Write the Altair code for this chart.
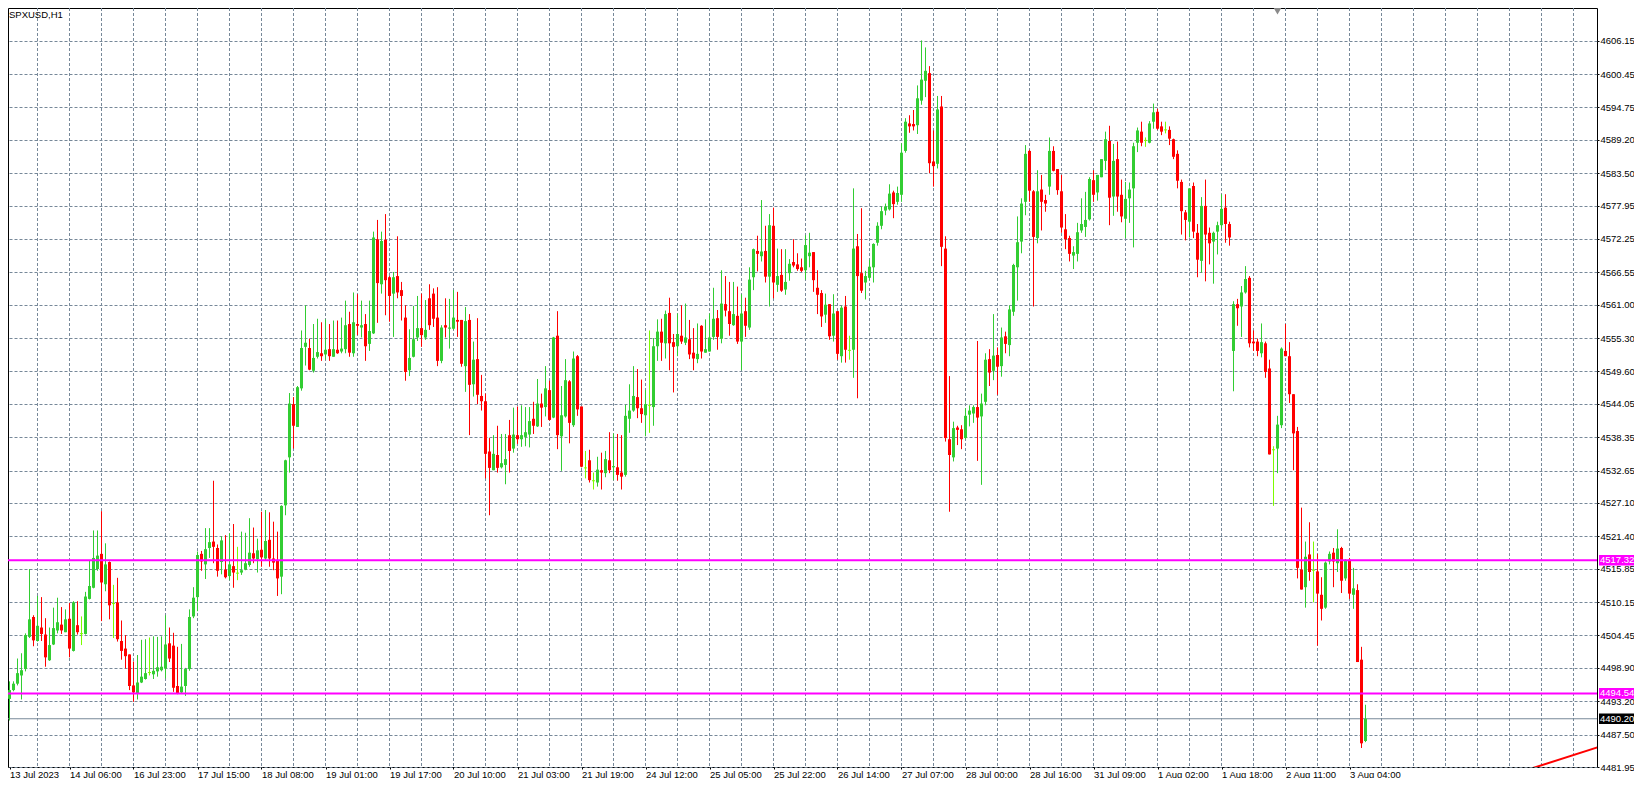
import altair as alt
import pandas as pd

# ---------------- data (SPXUSD, H1) ----------------
OPEN = [
    4489.5, 4493.6, 4495.1, 4496.2, 4497.6, 4498.7, 4504.2, 4507.6, 4503.5, 4505.8,
    4504.6, 4500.2, 4502.9, 4505.3, 4506.3, 4505.0, 4507.3, 4501.8, 4506.2, 4504.75,
    4504.7, 4510.7, 4512.6, 4515.8, 4518.4, 4513.2, 4517.0, 4509.9, 4510.1, 4503.5,
    4502.2, 4501.2, 4495.9, 4494.5, 4496.4, 4497.0, 4498.1, 4497.8, 4498.3, 4498.5,
    4498.8, 4503.1, 4502.7, 4495.8, 4494.7, 4495.8, 4498.7, 4507.7, 4511.0, 4518.4,
    4516.6, 4519.4, 4520.5, 4519.4, 4517.0, 4515.7, 4514.6, 4516.3, 4515.1, 4515.2,
    4515.7, 4516.5, 4518.5, 4517.5, 4519.1, 4517.6, 4520.8, 4517.6, 4517.3, 4514.5,
    4526.7, 4534.9, 4544.0, 4540.1, 4546.7, 4553.8, 4553.6, 4549.7, 4552.1, 4552.7,
    4552.5, 4553.4, 4552.1, 4553.3, 4553.0, 4553.4, 4557.7, 4552.7, 4557.7, 4557.1,
    4557.7, 4554.3, 4556.1, 4572.2, 4564.5, 4572.1, 4565.7, 4562.9, 4565.9, 4563.5,
    4558.8, 4549.8, 4552.1, 4555.4, 4557.0, 4555.4, 4562.1, 4562.9, 4558.8, 4551.4,
    4557.5, 4556.9, 4556.9, 4558.4, 4558.4, 4550.5, 4558.4, 4547.4, 4551.7, 4545.4,
    4544.5, 4535.9, 4532.7, 4535.3, 4533.2, 4533.6, 4538.7, 4536.4, 4538.7, 4538.0,
    4538.4, 4538.8, 4541.5, 4540.2, 4544.1, 4543.5, 4546.4, 4541.7, 4555.7, 4538.5,
    4541.9, 4547.9, 4540.4, 4552.2, 4543.6, 4533.1, 4534.4, 4530.9, 4530.6, 4532.7,
    4532.2, 4534.4, 4533.2, 4533.2, 4532.3, 4531.9, 4541.5, 4542.9, 4545.2, 4543.3,
    4542.1, 4543.8, 4543.5, 4553.9, 4556.4, 4554.4, 4559.6, 4554.6, 4553.9, 4555.7,
    4554.5, 4555.1, 4552.8, 4551.7, 4557.4, 4552.8, 4553.0, 4555.5, 4558.7, 4555.2,
    4561.1, 4559.9, 4557.5, 4559.1, 4554.7, 4559.9, 4557.1, 4565.7, 4570.2, 4569.3,
    4570.2, 4565.8, 4574.5, 4564.4, 4566.1, 4563.6, 4566.4, 4568.3, 4567.9, 4567.4,
    4566.9, 4569.3, 4570.0, 4563.9, 4563.0, 4559.3, 4561.1, 4555.7, 4559.9, 4552.2,
    4560.7, 4553.2, 4553.3, 4571.0, 4566.4, 4564.8, 4565.6, 4567.4, 4571.6, 4574.5,
    4577.1, 4577.3, 4580.2, 4578.6, 4579.8, 4587.3, 4592.0, 4591.9, 4591.7, 4595.9,
    4599.3, 4600.6, 4585.5, 4585.1, 4594.9, 4570.6, 4538.0, 4534.9, 4540.0, 4539.7,
    4538.2, 4542.2, 4542.4, 4543.5, 4541.9, 4544.4, 4551.7, 4549.7, 4552.4, 4550.5,
    4555.6, 4554.1, 4559.8, 4567.4, 4571.8, 4578.6, 4587.3, 4580.4, 4572.4, 4580.7,
    4578.9, 4581.2, 4587.3, 4584.2, 4580.4, 4573.9, 4572.4, 4569.4, 4569.7, 4573.7,
    4574.3, 4575.6, 4582.3, 4580.2, 4582.8, 4585.6, 4589.0, 4579.5, 4585.9, 4579.8,
    4575.7, 4579.2, 4580.9, 4588.7, 4590.6, 4589.1, 4588.7, 4592.3, 4594.0, 4591.5,
    4590.9, 4590.9, 4589.3, 4586.8, 4582.0, 4576.8, 4575.2, 4581.3, 4573.3, 4568.5,
    4577.9, 4573.3, 4571.8, 4573.5, 4574.6, 4577.6, 4574.8, 4553.1, 4561.1, 4560.7,
    4563.1, 4565.6, 4554.7, 4554.7, 4552.7, 4554.4, 4550.1, 4536.2, 4536.4, 4540.4,
    4553.1, 4552.2, 4545.7, 4539.4, 4515.7, 4512.7, 4518.3, 4515.6, 4515.4, 4511.4,
    4509.2, 4517.1, 4518.6, 4516.8, 4519.4, 4514.2, 4517.4, 4511.4, 4512.2, 4500.3,
    4486.4,
]
HIGH = [
    4495.0, 4496.6, 4496.6, 4500.5, 4501.4, 4504.8, 4515.8, 4507.9, 4511.2, 4511.0,
    4507.4, 4505.8, 4509.2, 4510.9, 4509.3, 4508.9, 4510.0, 4510.3, 4510.3, 4507.7,
    4511.9, 4517.2, 4522.4, 4522.4, 4525.7, 4520.2, 4517.1, 4513.1, 4514.3, 4507.0,
    4504.5, 4501.2, 4500.0, 4501.1, 4503.7, 4503.8, 4504.1, 4504.3, 4504.2, 4504.3,
    4507.9, 4505.8, 4504.9, 4502.5, 4503.0, 4498.9, 4508.9, 4512.7, 4518.8, 4518.9,
    4522.8, 4522.8, 4530.9, 4520.0, 4521.4, 4521.6, 4521.9, 4523.5, 4519.6, 4522.2,
    4522.0, 4524.5, 4522.9, 4521.0, 4525.6, 4525.9, 4525.5, 4523.9, 4522.2, 4526.7,
    4534.5, 4545.9, 4545.2, 4547.1, 4556.6, 4560.9, 4555.2, 4557.7, 4558.6, 4558.0,
    4558.5, 4557.7, 4558.3, 4558.3, 4558.8, 4561.7, 4559.8, 4563.1, 4562.8, 4561.7,
    4559.4, 4561.7, 4573.5, 4575.5, 4573.5, 4576.5, 4565.9, 4566.6, 4572.7, 4564.9,
    4560.9, 4556.8, 4560.8, 4562.5, 4562.9, 4561.8, 4564.5, 4563.8, 4564.0, 4557.5,
    4562.1, 4562.0, 4563.5, 4563.2, 4558.4, 4560.6, 4559.4, 4554.7, 4558.7, 4549.0,
    4545.8, 4538.2, 4538.7, 4540.3, 4538.9, 4538.9, 4541.3, 4543.4, 4543.6, 4543.8,
    4543.5, 4543.5, 4544.4, 4548.3, 4545.8, 4550.5, 4548.0, 4555.5, 4559.9, 4547.1,
    4551.7, 4548.1, 4553.0, 4552.4, 4543.6, 4536.0, 4536.2, 4532.3, 4535.0, 4535.7,
    4536.0, 4539.2, 4539.0, 4538.9, 4538.7, 4543.9, 4547.4, 4550.5, 4550.0, 4548.2,
    4546.4, 4556.6, 4555.3, 4558.5, 4558.6, 4560.0, 4562.2, 4556.0, 4559.5, 4560.9,
    4561.2, 4558.4, 4557.0, 4557.8, 4557.5, 4558.5, 4559.5, 4563.9, 4560.1, 4566.9,
    4565.9, 4564.9, 4564.9, 4564.1, 4562.8, 4562.2, 4567.4, 4570.6, 4572.8, 4578.9,
    4574.5, 4576.5, 4577.6, 4570.6, 4570.5, 4570.5, 4568.8, 4572.2, 4569.8, 4568.9,
    4572.9, 4573.3, 4570.0, 4566.9, 4563.5, 4562.9, 4561.1, 4562.8, 4559.9, 4560.8,
    4562.5, 4555.7, 4580.9, 4573.1, 4577.5, 4566.8, 4568.7, 4571.5, 4575.1, 4577.8,
    4578.3, 4581.6, 4580.5, 4581.2, 4588.6, 4592.9, 4593.4, 4594.3, 4598.5, 4606.2,
    4605.0, 4601.8, 4590.8, 4596.7, 4596.7, 4572.7, 4548.8, 4541.0, 4540.3, 4540.4,
    4543.3, 4543.8, 4543.8, 4554.8, 4545.8, 4552.7, 4553.4, 4559.4, 4553.7, 4557.1,
    4556.4, 4560.9, 4568.0, 4576.1, 4579.2, 4588.3, 4587.5, 4580.6, 4584.0, 4583.2,
    4579.8, 4589.6, 4588.1, 4584.2, 4583.2, 4576.5, 4572.8, 4571.0, 4575.0, 4579.2,
    4580.3, 4582.8, 4584.0, 4583.2, 4585.9, 4590.6, 4591.6, 4588.5, 4588.9, 4582.4,
    4582.0, 4581.9, 4588.7, 4591.3, 4592.3, 4589.6, 4592.4, 4595.4, 4594.5, 4592.3,
    4592.3, 4591.5, 4589.4, 4587.4, 4582.4, 4577.2, 4580.9, 4581.9, 4574.8, 4579.4,
    4582.4, 4574.2, 4573.5, 4575.2, 4579.9, 4579.9, 4575.2, 4561.6, 4562.0, 4564.2,
    4567.6, 4565.9, 4556.6, 4555.2, 4557.8, 4554.7, 4551.6, 4536.8, 4542.0, 4553.7,
    4557.7, 4554.6, 4545.7, 4540.1, 4526.3, 4520.5, 4523.8, 4520.5, 4518.4, 4514.4,
    4517.1, 4518.8, 4519.4, 4522.6, 4519.6, 4517.5, 4517.7, 4516.0, 4513.2, 4502.5,
    4492.6,
]
LOW = [
    4484.8, 4489.9, 4494.9, 4495.9, 4493.5, 4498.3, 4504.0, 4502.6, 4503.4, 4503.5,
    4499.1, 4500.1, 4502.8, 4504.8, 4504.7, 4505.0, 4500.7, 4501.7, 4504.6, 4502.8,
    4504.6, 4510.6, 4512.5, 4515.5, 4506.9, 4512.0, 4507.2, 4504.0, 4503.4, 4500.3,
    4498.8, 4495.1, 4493.1, 4493.5, 4496.3, 4496.9, 4497.6, 4497.0, 4497.4, 4498.3,
    4497.1, 4499.9, 4494.8, 4494.4, 4494.5, 4494.1, 4498.4, 4507.4, 4508.6, 4515.5,
    4514.1, 4517.7, 4516.8, 4514.5, 4514.9, 4514.2, 4513.9, 4512.6, 4513.9, 4514.8,
    4515.6, 4516.2, 4516.8, 4515.2, 4516.2, 4517.3, 4516.2, 4515.6, 4511.2, 4511.5,
    4525.0, 4532.3, 4536.4, 4540.1, 4546.3, 4550.6, 4549.8, 4549.4, 4551.8, 4551.4,
    4551.6, 4551.4, 4552.1, 4552.6, 4552.7, 4552.7, 4552.1, 4552.1, 4555.8, 4555.4,
    4551.4, 4553.1, 4556.0, 4557.9, 4562.9, 4559.2, 4558.1, 4555.5, 4562.1, 4558.3,
    4548.0, 4548.8, 4552.0, 4554.8, 4553.8, 4555.0, 4556.7, 4557.2, 4550.5, 4551.0,
    4555.4, 4553.5, 4556.7, 4555.5, 4550.4, 4546.1, 4538.7, 4545.3, 4544.0, 4542.9,
    4531.3, 4525.0, 4532.7, 4532.3, 4533.0, 4530.3, 4532.3, 4535.7, 4537.2, 4536.7,
    4536.8, 4536.6, 4538.9, 4540.1, 4540.1, 4541.9, 4541.2, 4541.6, 4536.3, 4532.6,
    4541.7, 4537.3, 4540.1, 4542.0, 4533.2, 4531.3, 4530.6, 4529.4, 4529.9, 4529.4,
    4531.5, 4532.2, 4531.0, 4530.9, 4529.4, 4531.6, 4539.1, 4542.7, 4541.6, 4540.8,
    4538.5, 4539.1, 4540.3, 4551.4, 4551.4, 4551.8, 4549.8, 4546.0, 4552.2, 4554.3,
    4554.1, 4551.7, 4549.8, 4551.0, 4551.8, 4552.8, 4553.0, 4555.0, 4553.3, 4554.4,
    4559.0, 4555.7, 4557.4, 4554.3, 4549.8, 4555.5, 4556.7, 4563.5, 4566.7, 4568.4,
    4564.8, 4560.7, 4562.1, 4563.2, 4563.2, 4562.7, 4565.1, 4567.4, 4566.8, 4566.6,
    4565.3, 4567.4, 4563.2, 4559.4, 4557.2, 4557.9, 4555.0, 4554.7, 4551.6, 4551.1,
    4551.1, 4551.6, 4548.5, 4545.0, 4563.0, 4561.9, 4565.2, 4564.8, 4571.1, 4573.9,
    4576.3, 4577.1, 4575.8, 4578.1, 4578.6, 4587.0, 4590.4, 4590.8, 4590.2, 4595.2,
    4596.5, 4583.5, 4581.2, 4584.3, 4567.6, 4537.6, 4525.6, 4534.2, 4537.0, 4536.3,
    4538.0, 4540.2, 4540.8, 4534.3, 4530.2, 4543.8, 4547.1, 4548.1, 4545.6, 4548.7,
    4552.7, 4552.2, 4559.1, 4561.7, 4569.8, 4576.3, 4578.6, 4560.7, 4571.5, 4573.7,
    4576.9, 4579.8, 4583.8, 4579.8, 4573.3, 4570.5, 4568.4, 4567.1, 4568.4, 4573.3,
    4572.6, 4575.4, 4578.6, 4578.8, 4582.8, 4584.0, 4574.6, 4576.2, 4576.9, 4575.1,
    4572.4, 4575.0, 4570.8, 4587.1, 4588.1, 4588.0, 4588.6, 4591.1, 4590.9, 4590.0,
    4590.3, 4588.3, 4585.9, 4580.9, 4573.0, 4572.0, 4572.5, 4572.4, 4565.7, 4566.5,
    4565.0, 4567.9, 4564.6, 4569.6, 4574.0, 4571.6, 4571.1, 4546.2, 4557.4, 4555.5,
    4562.9, 4553.7, 4553.1, 4552.2, 4552.0, 4548.5, 4535.4, 4526.6, 4532.2, 4539.9,
    4552.2, 4544.2, 4532.7, 4514.2, 4512.3, 4509.2, 4513.8, 4510.1, 4502.7, 4507.0,
    4509.0, 4516.6, 4512.7, 4515.3, 4511.7, 4513.8, 4510.7, 4509.0, 4499.9, 4485.2,
    4486.2,
]
CLOSE = [
    4494.0, 4495.1, 4496.2, 4498.0, 4498.5, 4504.5, 4507.2, 4503.6, 4506.1, 4504.7,
    4500.7, 4502.8, 4505.7, 4506.7, 4505.3, 4507.2, 4502.2, 4510.1, 4505.0, 4504.75,
    4511.1, 4512.9, 4517.7, 4518.1, 4513.5, 4516.6, 4509.6, 4509.9, 4503.8, 4501.8,
    4500.9, 4495.8, 4494.7, 4496.4, 4497.4, 4498.0, 4498.1, 4498.4, 4499.0, 4499.1,
    4502.9, 4500.5, 4495.5, 4494.6, 4495.7, 4498.7, 4507.6, 4510.9, 4518.2, 4517.1,
    4519.2, 4520.4, 4519.6, 4515.5, 4520.7, 4514.4, 4516.6, 4515.2, 4515.1, 4515.6,
    4516.8, 4518.6, 4517.6, 4519.0, 4517.8, 4520.6, 4517.6, 4516.9, 4514.2, 4526.6,
    4534.4, 4544.1, 4540.3, 4546.9, 4553.6, 4554.5, 4549.9, 4551.9, 4552.9, 4552.2,
    4553.3, 4552.2, 4553.4, 4552.7, 4553.5, 4557.5, 4552.8, 4558.0, 4557.4, 4557.5,
    4553.9, 4556.5, 4572.5, 4564.7, 4571.9, 4565.2, 4562.5, 4565.7, 4563.1, 4562.5,
    4549.5, 4551.9, 4555.1, 4557.0, 4555.8, 4556.7, 4557.5, 4558.6, 4551.4, 4557.1,
    4557.1, 4557.1, 4558.8, 4558.1, 4550.9, 4558.2, 4547.3, 4551.6, 4545.6, 4544.5,
    4535.5, 4533.1, 4535.5, 4533.1, 4533.9, 4534.6, 4536.0, 4538.8, 4538.0, 4538.7,
    4539.2, 4541.1, 4540.3, 4544.1, 4543.4, 4546.7, 4541.3, 4555.4, 4538.7, 4542.1,
    4548.1, 4540.8, 4551.8, 4543.1, 4533.3, 4533.1, 4531.0, 4530.9, 4532.8, 4532.3,
    4534.6, 4532.7, 4533.4, 4531.9, 4531.6, 4542.0, 4542.9, 4545.4, 4543.3, 4542.3,
    4544.0, 4543.8, 4553.9, 4556.4, 4554.5, 4559.4, 4554.4, 4553.8, 4556.0, 4554.7,
    4555.4, 4552.5, 4551.8, 4552.6, 4553.0, 4553.4, 4555.4, 4558.6, 4555.5, 4561.2,
    4560.0, 4557.7, 4559.4, 4554.7, 4559.5, 4557.4, 4565.3, 4570.5, 4569.7, 4570.1,
    4565.8, 4574.6, 4564.8, 4565.9, 4563.4, 4564.9, 4568.0, 4567.7, 4567.1, 4566.8,
    4571.2, 4569.9, 4565.2, 4562.7, 4559.0, 4561.0, 4555.6, 4559.5, 4552.6, 4560.5,
    4553.3, 4553.2, 4570.6, 4565.9, 4563.4, 4565.9, 4567.5, 4571.4, 4574.5, 4577.0,
    4577.8, 4580.0, 4578.2, 4580.1, 4587.0, 4592.3, 4591.5, 4591.5, 4596.3, 4599.5,
    4601.0, 4585.2, 4584.7, 4594.4, 4570.9, 4538.2, 4535.3, 4539.9, 4539.6, 4538.0,
    4542.0, 4542.9, 4543.5, 4541.7, 4544.1, 4551.6, 4549.4, 4552.3, 4550.4, 4555.4,
    4554.3, 4560.2, 4567.8, 4571.7, 4578.3, 4586.8, 4580.5, 4572.6, 4580.4, 4578.6,
    4578.3, 4587.3, 4583.9, 4580.6, 4574.2, 4572.2, 4569.7, 4570.0, 4573.4, 4574.8,
    4575.5, 4582.5, 4579.8, 4583.2, 4585.9, 4589.3, 4579.3, 4585.6, 4579.5, 4576.1,
    4579.1, 4580.7, 4588.1, 4590.8, 4588.7, 4589.1, 4592.0, 4593.9, 4591.1, 4590.6,
    4590.9, 4589.4, 4586.3, 4582.2, 4577.0, 4575.5, 4580.9, 4573.5, 4568.7, 4577.9,
    4573.0, 4571.5, 4573.3, 4574.6, 4577.4, 4574.8, 4572.5, 4561.1, 4560.4, 4563.1,
    4565.4, 4554.4, 4554.4, 4553.1, 4554.6, 4549.5, 4535.4, 4536.2, 4540.5, 4553.5,
    4552.2, 4545.7, 4539.0, 4516.0, 4512.3, 4517.9, 4515.3, 4515.6, 4511.6, 4509.0,
    4516.9, 4518.4, 4517.1, 4519.3, 4513.8, 4517.4, 4511.6, 4512.5, 4499.9, 4486.0,
    4490.2,
]

X_LABELS = [
    "13 Jul 2023", "14 Jul 06:00", "16 Jul 23:00", "17 Jul 15:00", "18 Jul 08:00",
    "19 Jul 01:00", "19 Jul 17:00", "20 Jul 10:00", "21 Jul 03:00", "21 Jul 19:00",
    "24 Jul 12:00", "25 Jul 05:00", "25 Jul 22:00", "26 Jul 14:00", "27 Jul 07:00",
    "28 Jul 00:00", "28 Jul 16:00", "31 Jul 09:00", "1 Aug 02:00", "1 Aug 18:00",
    "2 Aug 11:00", "3 Aug 04:00",
]
BARS_PER_LABEL = 16
BARS_PER_GRID = 8

Y_TICKS = [
    4606.15, 4600.45, 4594.75, 4589.20, 4583.50, 4577.95, 4572.25, 4566.55,
    4561.00, 4555.30, 4549.60, 4544.05, 4538.35, 4532.65, 4527.10, 4521.40,
    4515.85, 4510.15, 4504.45, 4498.90, 4493.20, 4487.50, 4481.95,
]

LEVELS = [4517.32, 4494.54]          # magenta horizontal lines
BID = 4490.20                        # current price (grey line, black tag)
TREND_BARS = [381.5, 398.0]          # red trend line (bar index)
TREND_PRICES = [4481.7, 4485.3]
SHIFT_MARK_BAR = 318
SYMBOL = "SPXUSD,H1"

# ---------------- layout (whole page must fit 1642x786 with 8px margins) ----------------
W, H = 1589, 759
PAD_R, PAD_B = 37, 11
X_DOMAIN = [0.625, 0.625 + W / 4.0]          # 4 px per bar
Y_DOMAIN = [4481.95, 4611.742]

GREEN, RED, DOJI = "#32CD32", "#FF0000", "#7CFC00"
GRID = "#778899"
MAGENTA = "#FF00FF"
FONT = "Liberation Sans"

n = len(CLOSE)
df = pd.DataFrame({"i": list(range(n)), "o": OPEN, "h": HIGH, "l": LOW, "c": CLOSE})
df["h"] = df[["h", "o", "c"]].max(axis=1)
df["l"] = df[["l", "o", "c"]].min(axis=1)
df["dir"] = ["up" if c > o else ("down" if c < o else "doji") for o, c in zip(df.o, df.c)]
top = df[["o", "c"]].max(axis=1)
bot = df[["o", "c"]].min(axis=1)
mid = (top + bot) / 2
thin = (top - bot) < 0.17
df["bt"] = top.where(~thin, mid + 0.086)
df["bb"] = bot.where(~thin, mid - 0.086)
df["x1"] = df["i"] - 0.375
df["x2"] = df["i"] + 0.375

xs = alt.Scale(domain=X_DOMAIN, nice=False, zero=False)
ys = alt.Scale(domain=Y_DOMAIN, nice=False, zero=False)
color = alt.Color("dir:N", scale=alt.Scale(domain=["up", "down", "doji"],
                                            range=[GREEN, RED, DOJI]), legend=None)

label_values = [1] + [BARS_PER_LABEL * k for k in range(1, len(X_LABELS))]
label_expr = "[" + ",".join("'%s'" % s for s in X_LABELS) + "][round(datum.value/%d)]" % BARS_PER_LABEL


def x_axis():
    return alt.Axis(values=label_values, labelExpr=label_expr, orient="bottom",
                    labelAlign="left", labelBaseline="top", labelPadding=0,
                    labelFont=FONT, labelFontSize=9.5, labelColor="black",
                    tickSize=2, tickColor="black", domain=False, grid=False,
                    labelFlush=False, labelOverlap=False, title=None)


def y_axis():
    return alt.Axis(values=Y_TICKS, format=".2f", orient="right",
                    labelFont=FONT, labelFontSize=9.5, labelColor="black",
                    labelPadding=1, tickSize=2, tickColor="black", domain=False,
                    grid=True, gridColor=GRID, gridDash=[3, 2], gridWidth=1,
                    labelFlush=False, labelOverlap=False, title=None)


def X(field):
    return alt.X(field, scale=xs, axis=x_axis())


def Y(field):
    return alt.Y(field, scale=ys, axis=y_axis())


# vertical dashed grid
grid_df = pd.DataFrame({"g": [BARS_PER_GRID * j for j in range(1, int(X_DOMAIN[1] // BARS_PER_GRID) + 1)]})
vgrid = alt.Chart(grid_df).mark_rule(color=GRID, strokeWidth=1, strokeDash=[3, 2]).encode(
    x=X("g:Q"))

# bid line
bid = alt.Chart(pd.DataFrame({"p": [BID]})).mark_rule(color=GRID, strokeWidth=1).encode(
    y=Y("p:Q"))

wicks = alt.Chart(df).mark_rule(strokeWidth=1).encode(
    x=X("i:Q"),
    y=Y("l:Q"),
    y2="h:Q",
    color=color,
)
bodies = alt.Chart(df).mark_rect().encode(
    x=X("x1:Q"),
    x2="x2:Q",
    y=Y("bb:Q"),
    y2="bt:Q",
    color=color,
)

levels = alt.Chart(pd.DataFrame({"p": LEVELS})).mark_rule(color=MAGENTA, strokeWidth=2).encode(
    y=Y("p:Q"))

trend = alt.Chart(pd.DataFrame({"b": TREND_BARS, "p": TREND_PRICES})).mark_line(
    color=RED, strokeWidth=2, clip=True).encode(x=X("b:Q"), y=Y("p:Q"))

tags_df = pd.DataFrame({
    "p": LEVELS + [BID],
    "fill": [MAGENTA, MAGENTA, "#000000"],
    "txt": ["%.2f" % v for v in LEVELS + [BID]],
})
tags_df["hi"] = tags_df["p"] + 0.9
tags_df["lo"] = tags_df["p"] - 0.9
tag_boxes = alt.Chart(tags_df).mark_rect().encode(
    x=alt.value(W + 2), x2=alt.value(W + PAD_R),
    y=Y("lo:Q"), y2="hi:Q",
    color=alt.Color("fill:N", scale=None),
)
tag_text = alt.Chart(tags_df).mark_text(align="left", baseline="middle", font=FONT,
                                        fontSize=9.5, color="white").encode(
    x=alt.value(W + 3), y=Y("p:Q"), text="txt:N")

title = alt.Chart(pd.DataFrame({"t": [SYMBOL]})).mark_text(
    align="left", baseline="middle", font=FONT, fontSize=9.5, color="black").encode(
    x=alt.value(1), y=alt.value(7), text="t:N")

shift = alt.Chart(pd.DataFrame({"b": [SHIFT_MARK_BAR]})).mark_point(
    shape="triangle-down", filled=True, color="#8a8a8a", size=70, opacity=1).encode(
    x=X("b:Q"), y=alt.value(3))

chart = alt.layer(vgrid, bid, wicks, bodies, levels, trend, tag_boxes, tag_text, title, shift).properties(
    width=W, height=H,
    autosize=alt.AutoSizeParams(type="none"),
    padding={"left": 0, "top": 0, "right": PAD_R, "bottom": PAD_B},
    background="white",
).configure_view(stroke="black", strokeWidth=1)

chart.save("out.html", embed_options={"renderer": "svg", "actions": False})
